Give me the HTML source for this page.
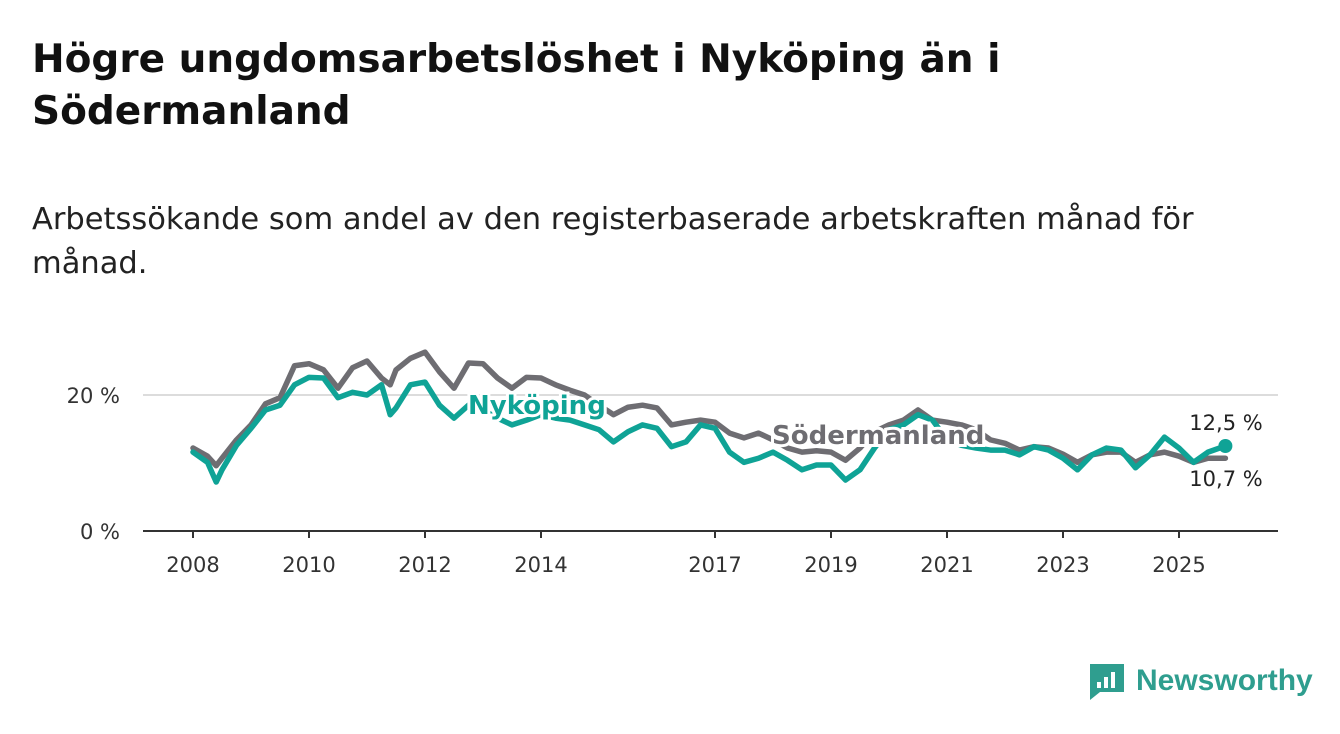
<!DOCTYPE html>
<html><head><meta charset="utf-8"><style>
body{margin:0;background:#fff;width:1340px;height:734px;overflow:hidden;font-family:"DejaVu Sans","Liberation Sans",sans-serif;}
h1{position:absolute;left:32px;top:34px;margin:0;font-size:39px;line-height:52px;font-weight:bold;color:#111;width:1100px}
p{position:absolute;left:32px;top:198px;margin:0;font-size:30.5px;line-height:44px;color:#222;width:1220px}
svg{position:absolute;left:0;top:0;font-family:"DejaVu Sans","Liberation Sans",sans-serif}
</style></head><body>
<h1>Högre ungdomsarbetslöshet i Nyköping än i Södermanland</h1>
<p>Arbetssökande som andel av den registerbaserade arbetskraften månad för månad.</p>
<svg width="1340" height="734">
<g id="axes"></g><g id="series"></g><g id="labels"></g>
<g>
<path d="M1090 664 h34 v28 h-24 l-10 8 z" fill="#2f9e8f"/>
<rect x="1097" y="682" width="4" height="6" fill="#fff"/><rect x="1104" y="677" width="4" height="11" fill="#fff"/><rect x="1111" y="672" width="4" height="16" fill="#fff"/>
<text x="1136" y="690" font-size="30" font-weight="bold" fill="#2f9e8f" font-family="Liberation Sans,sans-serif">Newsworthy</text>
</g>
</svg>
<script>
const dates=[2008,2008.25,2008.4,2008.5,2008.75,2009,2009.25,2009.5,2009.75,2010,2010.25,2010.5,2010.75,2011,2011.25,2011.4,2011.5,2011.75,2012,2012.25,2012.5,2012.75,2013,2013.25,2013.5,2013.75,2014,2014.25,2014.5,2014.75,2015,2015.25,2015.5,2015.75,2016,2016.25,2016.5,2016.75,2017,2017.25,2017.5,2017.75,2018,2018.25,2018.5,2018.75,2019,2019.25,2019.5,2019.75,2020,2020.25,2020.5,2020.75,2021,2021.25,2021.5,2021.75,2022,2022.25,2022.5,2022.75,2023,2023.25,2023.5,2023.75,2024,2024.25,2024.5,2024.75,2025,2025.25,2025.5,2025.8];
const sodermanland=[12.2,11.0,9.6,10.7,13.4,15.6,18.7,19.6,24.3,24.6,23.7,21.0,24.0,25.0,22.5,21.5,23.7,25.4,26.3,23.4,21.0,24.7,24.6,22.5,21.0,22.6,22.5,21.5,20.7,20.0,18.5,17.1,18.2,18.5,18.1,15.6,16.0,16.3,16.0,14.4,13.7,14.4,13.4,12.2,11.6,11.8,11.6,10.4,12.2,14.6,15.6,16.3,17.8,16.3,16.0,15.6,14.9,13.4,12.9,11.9,12.4,12.2,11.3,10.1,11.2,11.6,11.6,10.1,11.2,11.6,11.0,10.1,10.7,10.7];
const nykoping=[11.6,10.1,7.2,9.0,12.6,15.1,17.8,18.5,21.5,22.6,22.5,19.6,20.4,20.0,21.5,17.1,18.1,21.5,21.9,18.5,16.6,18.5,17.8,16.6,15.6,16.3,17.1,16.6,16.3,15.6,14.9,13.1,14.6,15.6,15.1,12.4,13.1,15.6,15.1,11.6,10.1,10.7,11.6,10.4,9.0,9.7,9.7,7.5,9.0,12.2,14.9,15.6,17.1,16.3,13.4,12.6,12.2,11.9,11.9,11.2,12.4,11.9,10.7,9.0,11.2,12.2,11.9,9.3,11.2,13.8,12.2,10.1,11.6,12.5];
const xTicks=[2008,2010,2012,2014,2017,2019,2021,2023,2025];
const yTicks=[0,20];
const X=d=>193+(d-2008)*58, Y=v=>531-v*6.8;
const NS="http://www.w3.org/2000/svg";
function mk(t,a,p){const e=document.createElementNS(NS,t);for(const k in a)e.setAttribute(k,a[k]);p.appendChild(e);return e;}
const ax=document.getElementById('axes');
yTicks.forEach(v=>{
 if(v>0){const g=mk('line',{x1:143,x2:1278,y1:Y(v),y2:Y(v),stroke:'#dcdcdc','stroke-width':2},ax);
 
 }
 const t=mk('text',{x:120,y:Y(v)+8,'text-anchor':'end','font-size':21,fill:'#333'},ax);t.textContent=v+' %';
 
 
});
const base=mk('line',{x1:143,x2:1278,y1:531,y2:531,stroke:'#333','stroke-width':2},ax);


xTicks.forEach(d=>{
 mk('line',{x1:X(d),x2:X(d),y1:531,y2:538,stroke:'#333','stroke-width':2},ax);
 const t=mk('text',{x:X(d),y:572,'text-anchor':'middle','font-size':21,fill:'#333'},ax);t.textContent=d;
 
 
});
const sg=document.getElementById('series');
function line(vals,col,name){const p=mk('polyline',{points:vals.map((v,i)=>X(dates[i])+','+Y(v)).join(' '),fill:'none',stroke:col,'stroke-width':5.5,'stroke-linejoin':'round','stroke-linecap':'round'},sg);
 
 }
line(sodermanland,'#6e6d72','sodermanland-line');
line(nykoping,'#0fa396','nykoping-line');
const L=document.getElementById('labels');
const last=dates.length-1;
const dot=mk('circle',{cx:X(dates[last]),cy:Y(nykoping[last]),r:7,fill:'#0fa396'},L);


function lab(x,y,s,col,w,name,sz,anchor){const t=mk('text',{x:x,y:y,'font-size':sz,'font-weight':w,fill:col,stroke:'#fff','stroke-width':6,'paint-order':'stroke','text-anchor':anchor||'start'},L);t.textContent=s;
 
 }
lab(468,414,'Nyköping','#0fa396','bold','nykoping-label',26);
lab(772,444,'Södermanland','#6e6d72','bold','sodermanland-label',26);
lab(1226,430,nykoping[last].toFixed(1).replace('.',',')+' %','#222','normal','nykoping-end-value',21,'middle');
lab(1226,486,sodermanland[last].toFixed(1).replace('.',',')+' %','#222','normal','sodermanland-end-value',21,'middle');
</script>
</body></html>
